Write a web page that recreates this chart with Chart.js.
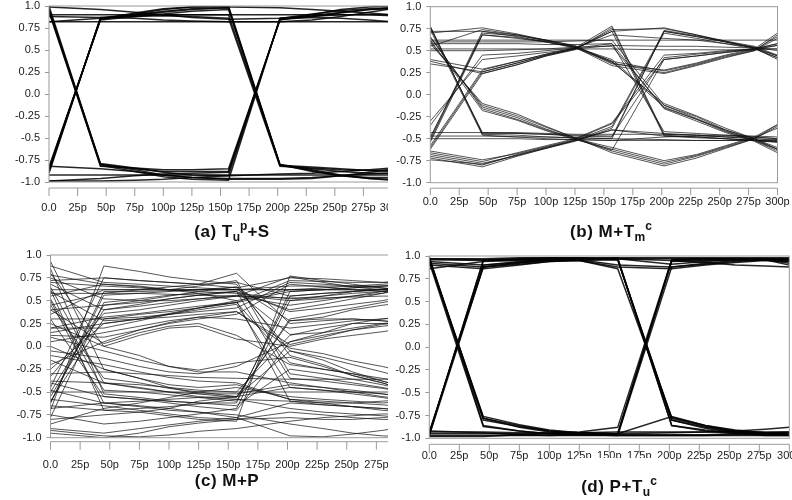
<!DOCTYPE html>
<html>
<head>
<meta charset="utf-8">
<script src="https://cdn.jsdelivr.net/npm/chart.js@4.4.1/dist/chart.umd.min.js"></script>
<style>
  html, body { margin: 0; padding: 0; background: #fff; }
  body { width: 792px; height: 500px; position: relative; overflow: hidden; font-family: "Liberation Sans", Arial, sans-serif; }
  .panel { position: absolute; overflow: hidden; }
  .panel canvas { position: absolute; left: 0; top: 0; }
  .title { position: absolute; text-align: center; font-weight: bold; font-size: 17px; letter-spacing: 0.5px; line-height: 20px; color: #111; white-space: nowrap; }
  .title sub { font-size: 12px; vertical-align: -4px; line-height: 0; letter-spacing: 0; }
  .title sup { font-size: 12px; vertical-align: 7px; line-height: 0; letter-spacing: 0; }
</style>
</head>
<body>
<div class="panel" style="left:0;top:0;width:388px;height:245px"><canvas id="eyeA" width="400" height="245"></canvas></div>
<div class="panel" style="left:396px;top:0;width:396px;height:245px"><canvas id="eyeB" width="396" height="245"></canvas></div>
<div class="panel" style="left:0;top:245px;width:388px;height:255px"><canvas id="eyeC" width="420" height="255"></canvas></div>
<div class="panel" style="left:396px;top:245px;width:396px;height:255px"><canvas id="eyeD" width="396" height="255"></canvas></div>

<div class="title" style="left:162px;top:222px;width:140px">(a) T<sub>u</sub><sup>p</sup>+S</div>
<div class="title" style="left:541px;top:222px;width:140px">(b) M+T<sub>m</sub><sup>c</sup></div>
<div class="title" style="left:157px;top:471px;width:140px">(c) M+P</div>
<div class="title" style="left:575px;top:458px;width:88px;padding-top:19px;background:#fff">(d) P+T<sub>u</sub><sup>c</sup></div>

<script>
// sample instants of every trace (ps)
const timePoints = [0, 45, 75, 100, 125, 157, 202, 230, 255, 280, 300];

const timeTicks = [0, 25, 50, 75, 100, 125, 150, 175, 200, 225, 250, 275, 300];
const timeLabels = ['0.0', '25p', '50p', '75p', '100p', '125p', '150p', '175p', '200p', '225p', '250p', '275p', '300p'];

const levelTicks = [-1, -0.75, -0.5, -0.25, 0, 0.25, 0.5, 0.75, 1];
const levelLabels = ['-1.0', '-0.75', '-0.5', '-0.25', '0.0', '0.25', '0.5', '0.75', '1.0'];

// (a) Tu^p + S
const tracesA = [
    [0.97, -0.80, -0.86, -0.92, -0.95, -0.96, -0.96, -0.95, -0.93, -0.91, -0.90],
    [0.95, -0.82, -0.84, -0.86, -0.86, -0.85, 0.84, 0.90, 0.96, 0.99, 1.00],
    [0.93, -0.81, -0.88, -0.94, -0.97, -0.98, 0.86, 0.88, 0.90, 0.90, 0.89],
    [-0.86, 0.85, 0.91, 0.96, 0.99, 1.00, -0.80, -0.86, -0.92, -0.96, -0.97],
    [-0.88, 0.86, 0.88, 0.89, 0.88, 0.86, -0.82, -0.84, -0.86, -0.87, -0.86],
    [-0.84, 0.85, 0.92, 0.97, 0.99, 0.99, 0.98, 0.96, 0.94, 0.92, 0.90],
    [-0.90, 0.87, 0.86, 0.84, 0.83, 0.82, 0.82, 0.84, 0.88, 0.93, 0.97],
    [0.90, 0.90, 0.90, 0.90, 0.90, 0.90, 0.90, 0.90, 0.90, 0.90, 0.90],
    [0.82, 0.82, 0.82, 0.82, 0.82, 0.82, 0.82, 0.82, 0.82, 0.82, 0.82],
    [0.82, 0.86, 0.89, 0.90, 0.90, 0.90, -0.81, -0.87, -0.93, -0.96, -0.98],
    [0.88, 0.87, 0.90, 0.93, 0.96, 0.98, -0.81, -0.85, -0.88, -0.90, -0.90],
    [-0.92, -0.92, -0.92, -0.92, -0.92, -0.92, -0.92, -0.92, -0.92, -0.92, -0.92],
    [-0.99, -0.96, -0.93, -0.91, -0.90, -0.89, 0.85, 0.88, 0.92, 0.96, 0.98],
    [-0.82, -0.85, -0.88, -0.92, -0.95, -0.97, -0.97, -0.96, -0.93, -0.89, -0.86],
    [-0.99, -0.99, -0.98, -0.97, -0.95, -0.93, -0.91, -0.90, -0.88, -0.86, -0.84],
    [0.99, 0.96, 0.93, 0.90, 0.87, 0.85, 0.86, 0.89, 0.93, 0.96, 0.97],
    [1.00, -0.80, -0.85, -0.88, -0.88, -0.88, 0.85, 0.87, 0.86, 0.84, 0.82],
    [-0.83, 0.84, 0.88, 0.91, 0.94, 0.96, -0.80, -0.88, -0.93, -0.95, -0.95],
    [0.96, -0.79, -0.84, -0.89, -0.92, -0.93, 0.86, 0.91, 0.95, 0.97, 0.98],
    [-0.87, 0.86, 0.90, 0.94, 0.97, 0.98, -0.81, -0.83, -0.85, -0.87, -0.88]
];

// (b) M + Tm^c
const tracesB = [
    [0.78, -0.45, -0.46, -0.48, -0.49, -0.50, -0.51, -0.52, -0.52, -0.52, -0.53],
    [0.76, -0.43, -0.44, -0.45, -0.47, -0.48, 0.72, 0.66, 0.60, 0.54, 0.44],
    [0.74, -0.46, -0.48, -0.50, -0.51, -0.52, -0.48, -0.47, -0.47, -0.48, -0.50],
    [0.65, -0.14, -0.26, -0.39, -0.50, -0.64, -0.79, -0.70, -0.60, -0.50, -0.36],
    [0.62, -0.18, -0.29, -0.41, -0.51, -0.62, -0.77, -0.69, -0.59, -0.49, -0.38],
    [0.58, -0.10, -0.22, -0.36, -0.49, -0.66, -0.81, -0.72, -0.61, -0.50, -0.34],
    [-0.52, 0.70, 0.67, 0.62, 0.55, 0.38, 0.27, 0.35, 0.44, 0.51, 0.66],
    [-0.50, 0.72, 0.68, 0.62, 0.56, 0.36, 0.25, 0.34, 0.43, 0.50, 0.68],
    [-0.48, 0.68, 0.64, 0.60, 0.54, 0.40, -0.12, -0.27, -0.41, -0.52, -0.64],
    [-0.35, 0.45, 0.47, 0.50, 0.53, 0.58, -0.42, -0.44, -0.46, -0.48, -0.50],
    [-0.60, 0.26, 0.36, 0.45, 0.52, 0.74, 0.75, 0.68, 0.60, 0.53, 0.42],
    [-0.58, 0.28, 0.38, 0.46, 0.53, 0.78, -0.45, -0.46, -0.48, -0.50, -0.51],
    [-0.62, 0.24, 0.34, 0.44, 0.52, 0.72, -0.47, -0.49, -0.50, -0.52, -0.54],
    [0.62, 0.62, 0.62, 0.62, 0.62, 0.62, 0.62, 0.62, 0.62, 0.62, 0.62],
    [0.52, 0.52, 0.52, 0.52, 0.52, 0.52, 0.51, 0.51, 0.51, 0.51, 0.52],
    [0.58, 0.58, 0.58, 0.57, 0.57, 0.58, -0.16, -0.30, -0.43, -0.53, -0.66],
    [0.60, 0.60, 0.60, 0.60, 0.61, 0.62, -0.12, -0.25, -0.40, -0.51, -0.62],
    [-0.43, -0.43, -0.43, -0.44, -0.45, -0.45, -0.45, -0.46, -0.46, -0.47, -0.48],
    [-0.50, -0.50, -0.50, -0.51, -0.51, -0.52, -0.52, -0.52, -0.52, -0.52, -0.52],
    [-0.47, -0.47, -0.48, -0.48, -0.49, -0.50, 0.73, 0.67, 0.61, 0.55, 0.45],
    [-0.70, -0.80, -0.68, -0.60, -0.52, -0.36, 0.72, 0.66, 0.60, 0.53, 0.40],
    [-0.72, -0.82, -0.70, -0.61, -0.53, -0.38, 0.70, 0.64, 0.58, 0.52, 0.42],
    [-0.74, -0.79, -0.69, -0.60, -0.52, -0.40, -0.44, -0.46, -0.48, -0.50, -0.52],
    [0.35, 0.26, 0.36, 0.45, 0.52, 0.72, 0.76, 0.68, 0.61, 0.53, 0.44],
    [0.38, 0.24, 0.34, 0.44, 0.51, 0.76, -0.46, -0.48, -0.50, -0.52, -0.53],
    [0.40, 0.29, 0.38, 0.46, 0.53, 0.68, 0.64, 0.62, 0.58, 0.54, 0.50],
    [0.55, 0.74, 0.68, 0.61, 0.54, 0.33, 0.24, 0.33, 0.42, 0.50, 0.64],
    [0.70, 0.76, 0.69, 0.62, 0.55, 0.35, 0.28, 0.36, 0.45, 0.52, 0.70],
    [0.72, 0.72, 0.66, 0.60, 0.54, 0.38, -0.14, -0.28, -0.42, -0.52, -0.62],
    [-0.66, -0.76, -0.66, -0.58, -0.50, -0.32, 0.45, 0.47, 0.50, 0.52, 0.56],
    [0.60, -0.12, -0.24, -0.37, -0.49, -0.63, 0.40, 0.44, 0.48, 0.52, 0.58],
    [-0.68, -0.78, -0.69, -0.61, -0.52, -0.40, -0.47, -0.48, -0.50, -0.52, -0.54],
    [0.50, 0.50, 0.51, 0.52, 0.54, 0.55, -0.15, -0.28, -0.40, -0.50, -0.60],
    [0.77, -0.44, -0.44, -0.45, -0.46, -0.47, 0.42, 0.46, 0.49, 0.52, 0.58],
    [-0.30, 0.40, 0.44, 0.48, 0.52, 0.56, 0.55, 0.55, 0.54, 0.53, 0.52],
    [-0.64, -0.74, -0.67, -0.59, -0.51, -0.33, 0.40, 0.44, 0.48, 0.51, 0.56],
    [0.66, -0.16, -0.28, -0.40, -0.50, -0.60, -0.75, -0.68, -0.58, -0.48, -0.34],
    [-0.54, 0.68, 0.65, 0.60, 0.53, 0.37, -0.10, -0.24, -0.38, -0.50, -0.62]
];

// (c) M + P
const tracesC = [
    [0.62, -0.70, -0.72, -0.76, -0.80, -0.82, 0.77, 0.72, 0.68, 0.64, 0.60],
    [0.65, -0.40, -0.45, -0.50, -0.55, -0.58, -0.68, -0.72, -0.74, -0.76, -0.78],
    [0.93, -0.25, -0.35, -0.45, -0.52, -0.56, 0.30, 0.36, 0.42, 0.48, 0.52],
    [0.80, 0.00, -0.10, -0.22, -0.28, -0.28, -0.40, -0.45, -0.50, -0.55, -0.58],
    [-0.62, 0.60, 0.60, 0.61, 0.62, 0.62, 0.62, 0.62, 0.62, 0.62, 0.62],
    [-0.50, 0.45, 0.50, 0.55, 0.60, 0.65, -0.05, -0.15, -0.28, -0.38, -0.45],
    [-0.33, 0.36, 0.40, 0.45, 0.50, 0.55, 0.45, 0.50, 0.55, 0.58, 0.62],
    [-0.70, 0.88, 0.82, 0.76, 0.72, 0.68, -0.10, -0.20, -0.32, -0.40, -0.48],
    [-0.45, 0.75, 0.72, 0.70, 0.68, 0.70, 0.55, 0.58, 0.60, 0.62, 0.64],
    [0.25, 0.00, 0.12, 0.20, 0.22, 0.08, 0.00, 0.08, 0.12, 0.16, 0.20],
    [0.40, 0.03, 0.15, 0.22, 0.25, 0.12, -0.20, -0.25, -0.30, -0.38, -0.45],
    [-0.05, -0.13, -0.22, -0.28, -0.30, -0.22, 0.05, 0.15, 0.25, 0.30, 0.33],
    [0.10, -0.05, -0.15, -0.22, -0.26, -0.18, -0.12, -0.22, -0.32, -0.40, -0.48],
    [-0.95, -1.00, -0.95, -0.88, -0.84, -0.80, -0.72, -0.75, -0.78, -0.80, -0.80],
    [-0.75, -0.85, -0.82, -0.78, -0.74, -0.68, 0.50, 0.52, 0.55, 0.60, 0.62],
    [-0.65, -0.70, -0.68, -0.66, -0.63, -0.58, -0.60, -0.62, -0.62, -0.60, -0.58],
    [0.62, 0.62, 0.62, 0.62, 0.62, 0.62, 0.62, 0.62, 0.62, 0.62, 0.62],
    [0.58, 0.58, 0.58, 0.57, 0.56, 0.55, 0.53, 0.53, 0.54, 0.55, 0.55],
    [0.30, 0.30, 0.32, 0.35, 0.38, 0.42, 0.70, 0.68, 0.66, 0.64, 0.62],
    [0.78, 0.68, 0.65, 0.62, 0.66, 0.72, -0.30, -0.35, -0.40, -0.45, -0.50],
    [0.45, 0.58, 0.62, 0.65, 0.68, 0.80, 0.25, 0.28, 0.30, 0.28, 0.25],
    [-0.50, -0.50, -0.50, -0.50, -0.50, -0.50, -0.50, -0.50, -0.50, -0.50, -0.50],
    [-0.38, -0.40, -0.42, -0.45, -0.48, -0.50, 0.12, 0.20, 0.25, 0.25, 0.23],
    [-0.85, -0.68, -0.62, -0.56, -0.50, -0.45, -0.55, -0.58, -0.60, -0.62, -0.60],
    [0.15, 0.25, 0.30, 0.35, 0.40, 0.46, -0.45, -0.48, -0.52, -0.56, -0.60],
    [0.85, -0.52, -0.56, -0.60, -0.62, -0.62, 0.60, 0.62, 0.64, 0.66, 0.68],
    [-0.60, 0.30, 0.35, 0.38, 0.42, 0.48, -0.18, -0.25, -0.30, -0.35, -0.40],
    [-0.92, -0.98, -0.99, -0.97, -0.93, -0.90, -0.82, -0.78, -0.76, -0.74, -0.74],
    [0.00, -0.25, -0.35, -0.42, -0.45, -0.42, -0.58, -0.62, -0.66, -0.70, -0.72],
    [0.72, 0.75, 0.72, 0.70, 0.68, 0.64, 0.75, 0.74, 0.72, 0.70, 0.72],
    [-0.30, -0.28, -0.30, -0.32, -0.34, -0.35, -0.36, -0.36, -0.36, -0.36, -0.35],
    [-0.55, 0.40, 0.46, 0.52, 0.56, 0.60, 0.40, 0.46, 0.52, 0.58, 0.66],
    [0.50, -0.62, -0.66, -0.70, -0.72, -0.75, -0.85, -0.90, -0.95, -0.98, -0.99],
    [-0.80, -0.75, -0.72, -0.68, -0.60, -0.55, 0.28, 0.32, 0.40, 0.45, 0.48],
    [0.20, 0.20, 0.28, 0.35, 0.42, 0.50, 0.62, 0.64, 0.66, 0.68, 0.70],
    [0.55, 0.68, 0.66, 0.62, 0.58, 0.50, -0.60, -0.64, -0.66, -0.68, -0.70],
    [-0.20, 0.05, 0.18, 0.26, 0.32, 0.38, 0.02, 0.10, 0.18, 0.24, 0.28],
    [0.40, 0.45, 0.48, 0.52, 0.56, 0.60, 0.13, 0.15, 0.20, 0.25, 0.27],
    [-0.40, -0.55, -0.58, -0.60, -0.62, -0.65, -0.25, -0.30, -0.36, -0.42, -0.48],
    [0.75, 0.52, 0.50, 0.50, 0.52, 0.55, 0.76, 0.70, 0.65, 0.62, 0.58],
    [-0.90, -0.95, -0.90, -0.86, -0.82, -0.78, -0.98, -0.99, -0.96, -0.92, -0.88],
    [0.88, 0.70, 0.68, 0.66, 0.64, 0.62, 0.66, 0.66, 0.66, 0.66, 0.66],
    [0.68, 0.40, 0.44, 0.48, 0.52, 0.56, 0.50, 0.55, 0.60, 0.63, 0.65],
    [-0.25, 0.25, 0.30, 0.36, 0.42, 0.48, 0.60, 0.62, 0.64, 0.66, 0.68],
    [0.30, -0.55, -0.58, -0.62, -0.66, -0.70, 0.05, 0.12, 0.18, 0.22, 0.25],
    [0.45, -0.35, -0.40, -0.46, -0.50, -0.55, -0.45, -0.48, -0.50, -0.52, -0.55],
    [0.12, 0.10, 0.18, 0.25, 0.30, 0.35, 0.68, 0.65, 0.62, 0.60, 0.58],
    [-0.10, -0.20, -0.28, -0.34, -0.38, -0.40, -0.58, -0.60, -0.62, -0.64, -0.66],
    [-0.68, -0.62, -0.60, -0.58, -0.56, -0.55, -0.05, -0.12, -0.20, -0.28, -0.35],
    [0.35, 0.62, 0.62, 0.62, 0.62, 0.62, 0.38, 0.42, 0.46, 0.50, 0.55],
    [-0.78, 0.48, 0.52, 0.56, 0.58, 0.60, -0.35, -0.38, -0.42, -0.46, -0.50],
    [0.60, 0.28, 0.30, 0.32, 0.35, 0.38, -0.02, -0.08, -0.16, -0.22, -0.28],
    [-0.48, -0.62, -0.65, -0.68, -0.72, -0.78, -0.62, -0.64, -0.66, -0.68, -0.70],
    [0.20, 0.32, 0.36, 0.40, 0.44, 0.48, 0.72, 0.71, 0.70, 0.70, 0.70],
    [-0.15, -0.40, -0.46, -0.50, -0.52, -0.52, -0.42, -0.45, -0.48, -0.52, -0.56],
    [0.05, 0.15, 0.22, 0.28, 0.32, 0.30, 0.20, 0.24, 0.28, 0.30, 0.32],
    [-0.58, -0.65, -0.70, -0.74, -0.78, -0.80, -0.78, -0.80, -0.80, -0.78, -0.76],
    [0.70, 0.66, 0.64, 0.62, 0.60, 0.58, 0.52, 0.55, 0.58, 0.60, 0.62],
    [-0.62, 0.56, 0.58, 0.60, 0.62, 0.65, 0.28, 0.30, 0.30, 0.28, 0.26],
    [0.52, -0.48, -0.50, -0.53, -0.56, -0.60, 0.55, 0.58, 0.60, 0.62, 0.64]
];

// (d) P + Tu^c
const tracesD = [
    [0.97, -0.78, -0.88, -0.93, -0.95, -0.96, -0.96, -0.96, -0.95, -0.94, -0.93],
    [0.95, -0.80, -0.87, -0.92, -0.94, -0.95, 0.95, 0.96, 0.97, 0.97, 0.96],
    [0.93, -0.87, -0.92, -0.95, -0.96, -0.97, 0.88, 0.91, 0.94, 0.96, 0.97],
    [-0.95, 0.95, 0.96, 0.97, 0.97, 0.96, -0.78, -0.87, -0.92, -0.94, -0.95],
    [-0.93, 0.88, 0.93, 0.96, 0.97, 0.97, 0.97, 0.97, 0.97, 0.97, 0.97],
    [0.92, 0.88, 0.91, 0.94, 0.95, 0.96, -0.80, -0.88, -0.93, -0.95, -0.96],
    [0.97, 0.97, 0.98, 0.98, 0.98, 0.98, 0.98, 0.98, 0.98, 0.98, 0.98],
    [-0.95, -0.95, -0.95, -0.95, -0.95, -0.95, 0.94, 0.95, 0.96, 0.96, 0.95],
    [-0.97, -0.97, -0.97, -0.97, -0.97, -0.97, -0.97, -0.97, -0.97, -0.97, -0.97],
    [0.99, -0.86, -0.92, -0.95, -0.96, -0.97, -0.97, -0.97, -0.96, -0.95, -0.94],
    [-0.97, 0.88, 0.92, 0.95, 0.96, 0.98, -0.86, -0.91, -0.94, -0.95, -0.96],
    [0.86, 0.94, 0.95, 0.96, 0.95, 0.86, -0.77, -0.86, -0.92, -0.95, -0.96],
    [0.90, 0.86, 0.90, 0.94, 0.95, 0.88, 0.86, 0.90, 0.93, 0.95, 0.94],
    [0.96, 0.95, 0.96, 0.97, 0.96, 0.90, 0.88, 0.92, 0.95, 0.96, 0.92],
    [-0.93, -0.93, -0.94, -0.94, -0.94, -0.93, -0.93, -0.93, -0.93, -0.93, -0.93],
    [-0.96, 0.95, 0.97, 0.98, 0.98, 0.97, -0.80, -0.89, -0.94, -0.96, -0.95],
    [0.98, -0.78, -0.86, -0.92, -0.94, -0.96, 0.96, 0.97, 0.97, 0.96, 0.94],
    [-0.98, -0.98, -0.96, -0.95, -0.93, -0.88, 0.96, 0.97, 0.97, 0.96, 0.90],
    [-0.92, -0.94, -0.96, -0.97, -0.96, -0.95, -0.94, -0.93, -0.92, -0.90, -0.88],
    [0.97, 0.96, 0.97, 0.97, 0.97, 0.97, -0.86, -0.92, -0.95, -0.97, -0.97],
    [0.94, 0.90, 0.93, 0.96, 0.97, 0.97, 0.95, 0.93, 0.90, 0.89, 0.88],
    [0.96, -0.76, -0.85, -0.91, -0.94, -0.95, -0.76, -0.86, -0.91, -0.94, -0.95],
    [-0.94, 0.90, 0.94, 0.96, 0.97, 0.97, 0.91, 0.94, 0.96, 0.97, 0.96]
];

// frame around the plot and the detached time axis under it
const eyeFrame = {
    id: 'eyeFrame',
    afterDraw(chart, args, opts) {
        const {ctx, chartArea: a} = chart;
        const xs = chart.scales.x;
        ctx.save();
        ctx.strokeStyle = '#9a9a9a';
        ctx.lineWidth = 1;
        ctx.strokeRect(a.left, a.top, a.right - a.left, a.bottom - a.top);
        const y0 = a.bottom + opts.gap;
        ctx.beginPath();
        ctx.moveTo(a.left, y0);
        ctx.lineTo(a.right, y0);
        timeTicks.forEach(t => {
            const px = xs.getPixelForValue(t);
            ctx.moveTo(px, y0);
            ctx.lineTo(px, y0 + opts.len);
        });
        ctx.stroke();
        ctx.restore();
    }
};

const tickFont = {family: 'Liberation Sans', size: 11};

function drawEye(id, traces, box, line) {
    new Chart(document.getElementById(id), {
        type: 'line',
        data: {
            datasets: traces.map(tr => ({
                data: timePoints.map((t, i) => ({x: t, y: tr[i]})),
                borderColor: line.color,
                borderWidth: line.width,
                pointRadius: 0,
                tension: 0,
                fill: false
            }))
        },
        options: {
            responsive: false,
            animation: false,
            events: [],
            layout: {padding: {left: 0, top: box.top, right: box.right, bottom: 0}},
            plugins: {
                legend: {display: false},
                tooltip: {enabled: false},
                eyeFrame: {gap: box.gap, len: box.len}
            },
            scales: {
                x: {
                    type: 'linear',
                    min: 0,
                    max: 300,
                    afterBuildTicks: s => { s.ticks = timeTicks.map(v => ({value: v})); },
                    afterFit: s => { s.height = box.xHeight; s.paddingLeft = 0; s.paddingRight = 0; },
                    grid: {display: false, drawTicks: false},
                    border: {display: false},
                    ticks: {
                        padding: box.labelPad,
                        maxRotation: 0,
                        autoSkip: false,
                        color: '#222',
                        font: tickFont,
                        callback: (v, i) => timeLabels[i]
                    }
                },
                y: {
                    min: -1,
                    max: 1,
                    afterBuildTicks: s => { s.ticks = levelTicks.map(v => ({value: v})); },
                    afterFit: s => { s.width = box.yWidth; s.paddingTop = 0; s.paddingBottom = 0; },
                    grid: {drawOnChartArea: false, drawTicks: true, tickLength: 4, color: '#9a9a9a'},
                    border: {display: false},
                    ticks: {
                        padding: 5,
                        color: '#222',
                        font: tickFont,
                        callback: (v, i) => levelLabels[i]
                    }
                }
            }
        },
        plugins: [eyeFrame]
    });
}

drawEye('eyeA', tracesA, {top: 6, right: 8, yWidth: 49, xHeight: 63, labelPad: 19.4, gap: 6, len: 8},
    {color: 'rgba(0,0,0,0.85)', width: 1.5});
drawEye('eyeB', tracesB, {top: 6.7, right: 14.5, yWidth: 34.3, xHeight: 62.3, labelPad: 12.4, gap: 5.5, len: 7},
    {color: 'rgba(20,20,20,0.72)', width: 1});
drawEye('eyeC', tracesC, {top: 10, right: 14, yWidth: 50.5, xHeight: 62.3, labelPad: 20.7, gap: 4, len: 8},
    {color: 'rgba(20,20,20,0.72)', width: 1});
drawEye('eyeD', tracesD, {top: 11, right: 2.7, yWidth: 33.3, xHeight: 61.7, labelPad: 10.8, gap: 6, len: 9},
    {color: 'rgba(0,0,0,0.85)', width: 1.5});
</script>
</body>
</html>
